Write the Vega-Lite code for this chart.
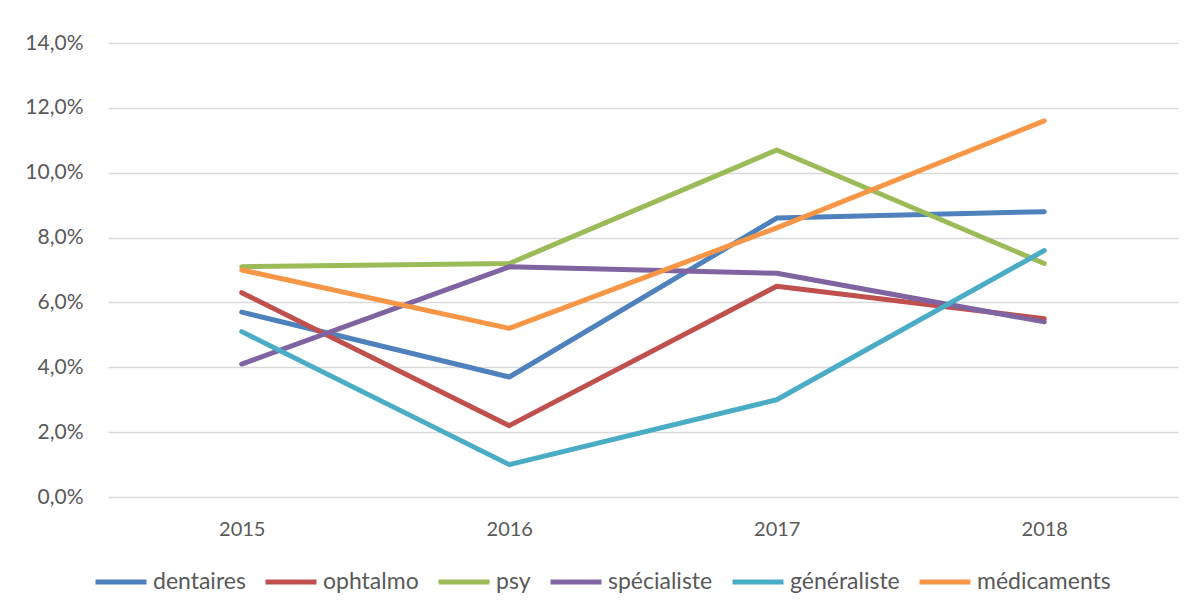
{
  "$schema": "https://vega.github.io/schema/vega-lite/v6.json",
  "autosize": "none",
  "width": 1070,
  "height": 454,
  "padding": {"left": 108, "top": 43, "right": 17, "bottom": 113},
  "background": "white",
  "config": {
    "locale": {"number": {"decimal": ",", "thousands": " ", "grouping": [3], "currency": ["", " €"]}},
    "view": {"stroke": null},
    "font": "Lato",
    "axis": {"labelFont": "Lato", "labelFontSize": 20, "labelColor": "#595959", "gridColor": "#d9d9d9", "gridWidth": 1.5, "domain": false, "ticks": false, "title": null},
    "legend": {"labelFont": "Lato", "labelFontSize": 23, "labelColor": "#595959"}
  },
  "data": {
    "values": [
      {"annee": "2015", "serie": "dentaires", "taux": 0.057},
      {"annee": "2016", "serie": "dentaires", "taux": 0.037},
      {"annee": "2017", "serie": "dentaires", "taux": 0.086},
      {"annee": "2018", "serie": "dentaires", "taux": 0.088},
      {"annee": "2015", "serie": "ophtalmo", "taux": 0.063},
      {"annee": "2016", "serie": "ophtalmo", "taux": 0.022},
      {"annee": "2017", "serie": "ophtalmo", "taux": 0.065},
      {"annee": "2018", "serie": "ophtalmo", "taux": 0.055},
      {"annee": "2015", "serie": "psy", "taux": 0.071},
      {"annee": "2016", "serie": "psy", "taux": 0.072},
      {"annee": "2017", "serie": "psy", "taux": 0.107},
      {"annee": "2018", "serie": "psy", "taux": 0.072},
      {"annee": "2015", "serie": "spécialiste", "taux": 0.041},
      {"annee": "2016", "serie": "spécialiste", "taux": 0.071},
      {"annee": "2017", "serie": "spécialiste", "taux": 0.069},
      {"annee": "2018", "serie": "spécialiste", "taux": 0.054},
      {"annee": "2015", "serie": "généraliste", "taux": 0.051},
      {"annee": "2016", "serie": "généraliste", "taux": 0.010},
      {"annee": "2017", "serie": "généraliste", "taux": 0.030},
      {"annee": "2018", "serie": "généraliste", "taux": 0.076},
      {"annee": "2015", "serie": "médicaments", "taux": 0.070},
      {"annee": "2016", "serie": "médicaments", "taux": 0.052},
      {"annee": "2017", "serie": "médicaments", "taux": 0.083},
      {"annee": "2018", "serie": "médicaments", "taux": 0.116}
    ]
  },
  "mark": {"type": "line", "strokeWidth": 5, "strokeCap": "round", "strokeJoin": "round"},
  "encoding": {
    "x": {
      "field": "annee", "type": "ordinal",
      "scale": {"type": "point", "padding": 0.5},
      "axis": {"labelAngle": 0, "grid": false, "labelPadding": 22}
    },
    "y": {
      "field": "taux", "type": "quantitative",
      "scale": {"domain": [0, 0.14], "nice": false, "zero": true},
      "axis": {"values": [0, 0.02, 0.04, 0.06, 0.08, 0.1, 0.12, 0.14], "format": ".1%", "labelPadding": 25, "labelFontSize": 21, "grid": true}
    },
    "color": {
      "field": "serie", "type": "nominal",
      "scale": {
        "domain": ["dentaires", "ophtalmo", "psy", "spécialiste", "généraliste", "médicaments"],
        "range": ["#4F81BD", "#C0504D", "#9BBB59", "#8064A2", "#4BACC6", "#F79646"]
      },
      "legend": {
        "title": null, "orient": "none", "direction": "horizontal",
        "legendX": -15, "legendY": 511,
        "symbolType": "stroke", "symbolSize": 2600, "symbolStrokeWidth": 5,
        "labelOffset": 4, "columnPadding": 9
      }
    }
  }
}
